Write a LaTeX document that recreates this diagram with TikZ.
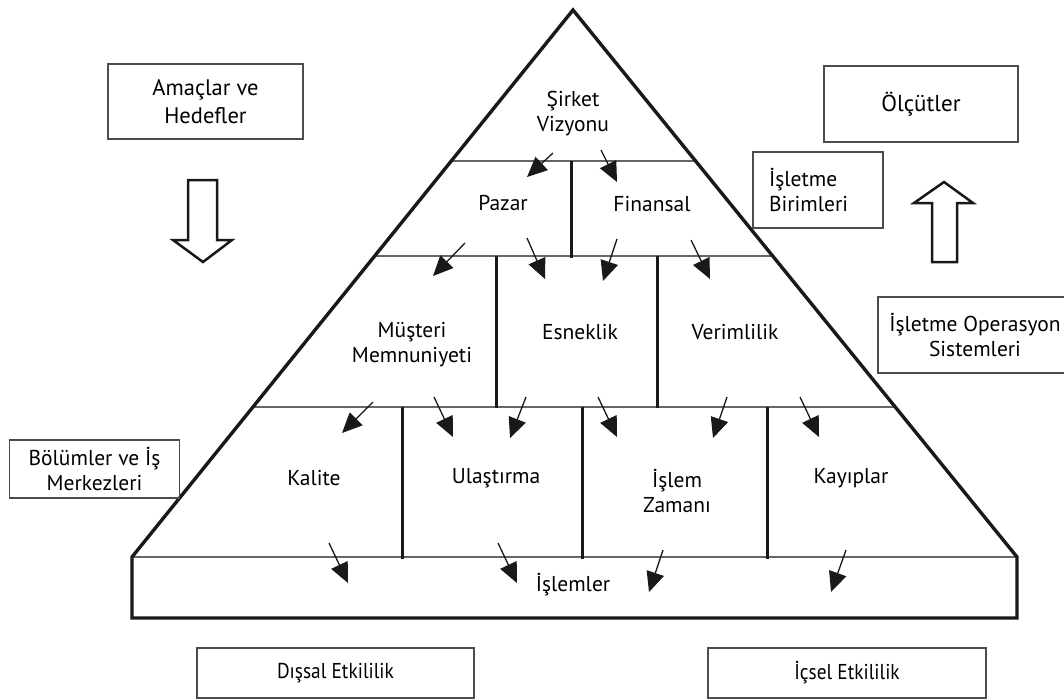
\documentclass[tikz,border=0pt]{standalone}
\usepackage{fontspec}
\setmainfont{PT Sans}
\usetikzlibrary{arrows.meta,calc}

\begin{document}
\begin{tikzpicture}[x=1pt,y=-1pt,
  lbl/.style={font=\fontsize{21.5}{25}\selectfont, align=center, inner sep=0pt, text=black},
  sidebox/.style={draw=black!70, line width=1.4pt, font=\fontsize{21.5}{25}\selectfont, align=center, text=black, inner sep=0pt},
  divider/.style={line width=3pt, black!90},
  rowline/.style={line width=1.3pt, black!60},
  outline/.style={line width=3.4pt, black!90, line join=miter},
  flow/.style={line width=1.3pt, black!90, -{Triangle[length=20pt,width=18pt]}},
  blockarrow/.style={line width=2.5pt, black!90, line join=miter}
]
\useasboundingbox (0,0) rectangle (1064,699);

% pyramid corners
\coordinate (apex) at (573,10);
\coordinate (bl) at (132,557);
\coordinate (br) at (1017,557);

% level separators
\draw[rowline] ($(apex)!0.2761!(bl)$) -- ($(apex)!0.2761!(br)$);
\draw[rowline] ($(apex)!0.4497!(bl)$) -- ($(apex)!0.4497!(br)$);
\draw[rowline] ($(apex)!0.7258!(bl)$) -- ($(apex)!0.7258!(br)$);
\draw[rowline] (bl) -- (br);

% cell dividers
\draw[divider] (571,161) -- (571,258);
\draw[divider] (496,256) -- (496,408);
\draw[divider] (657,256) -- (657,408);
\draw[divider] (402,407) -- (402,559);
\draw[divider] (582,407) -- (582,559);
\draw[divider] (767,407) -- (767,559);

% pyramid with base block
\draw[outline] (132,618) -- (bl) -- (apex) -- (br) -- (1017,618) -- cycle;

% level texts
\node[lbl] (vision) at (573,113.5) {Şirket\\Vizyonu};
\node[lbl] (market) at (503,203) {Pazar};
\node[lbl] (finance) at (652,204) {Finansal};
\node[lbl] (customer) at (412,345) {Müşteri\\Memnuniyeti};
\node[lbl] (flex) at (580,332) {Esneklik};
\node[lbl] (prod) at (735,332) {Verimlilik};
\node[lbl] (quality) at (314,478) {Kalite};
\node[lbl] (delivery) at (496,478) {Ulaştırma};
\node[lbl] (cycle) at (677,491) {İşlem\\Zamanı};
\node[lbl] (waste) at (851,478) {Kayıplar};
\node[lbl] (ops) at (573,585) {İşlemler};

% flow arrows between levels
\draw[flow] (553,153) -- (527,177);
\draw[flow] (601,150) -- (617,182);
\draw[flow] (465,243) -- (433,276);
\draw[flow] (527,238) -- (545,279);
\draw[flow] (617,239) -- (603,281);
\draw[flow] (691,240) -- (710,279);
\draw[flow] (373,402) -- (342,433);
\draw[flow] (434,397) -- (453,437);
\draw[flow] (526,397) -- (510,438);
\draw[flow] (598,397) -- (617,437);
\draw[flow] (727,397) -- (713,438);
\draw[flow] (800,397) -- (819,437);
\draw[flow] (329,543) -- (348,583);
\draw[flow] (498,543) -- (517,583);
\draw[flow] (663,550) -- (649,592);
\draw[flow] (846,550) -- (831,592);

% side boxes
\node[sidebox, minimum width=195pt, minimum height=75pt, font=\fontsize{22.5}{28}\selectfont] (goals) at (205.5,101.5) {Amaçlar ve\\Hedefler};
\node[sidebox, minimum width=194pt, minimum height=76pt, font=\fontsize{23}{28}\selectfont] (measures) at (921,104) {Ölçütler};
\node[sidebox, minimum height=76pt, text width=98pt, inner xsep=16pt, align=left] (units) at (818,190) {İşletme\\Birimleri};
\node[sidebox, minimum width=194pt, minimum height=76pt] (opsys) at (975,335) {İşletme Operasyon\\Sistemleri};
\node[sidebox, minimum width=170pt, minimum height=58pt] (depts) at (94.5,469) {Bölümler ve İş\\Merkezleri};
\node[sidebox, minimum width=277pt, minimum height=50pt] (ext) at (335.5,673) {\scalebox{0.9}[1]{Dışsal Etkililik}};
\node[sidebox, minimum width=278pt, minimum height=50pt] (int) at (847,673) {\scalebox{0.9}[1]{İçsel Etkililik}};

% hollow block arrows
\draw[blockarrow] (188,180) -- (217,180) -- (217,240) -- (232,240) -- (203,262) -- (173,240) -- (188,240) -- cycle;
\draw[blockarrow] (932,262) -- (957,262) -- (957,203) -- (973,203) -- (944,182) -- (914,203) -- (932,203) -- cycle;
\end{tikzpicture}
\end{document}
